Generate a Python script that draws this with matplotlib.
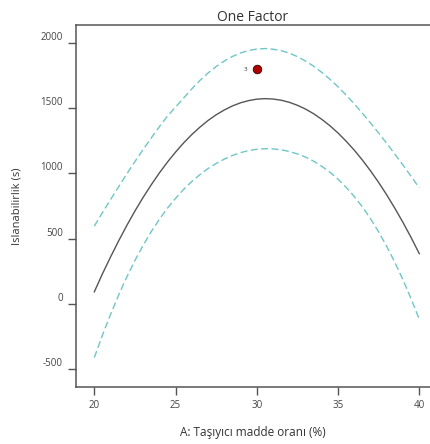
import matplotlib
matplotlib.use("Agg")
import matplotlib.pyplot as plt

plt.rcParams['font.family'] = ['Open Sans', 'DejaVu Sans']

# data
x_vals = [20, 20.5, 21, 21.5, 22, 22.5, 23, 23.5, 24, 24.5, 25, 25.5, 26, 26.5,
          27, 27.5, 28, 28.5, 29, 29.5, 30, 30.5, 31, 31.5, 32, 32.5, 33, 33.5,
          34, 34.5, 35, 35.5, 36, 36.5, 37, 37.5, 38, 38.5, 39, 39.5, 40]
mean_vals = [90, 228, 358, 482, 600, 711, 815, 912, 1003, 1087, 1164, 1235, 1299, 1356,
             1407, 1451, 1488, 1519, 1543, 1560, 1571, 1575, 1572, 1563, 1547, 1524, 1495, 1459,
             1416, 1367, 1311, 1248, 1179, 1103, 1020, 931, 835, 732, 623, 507, 384]
upper_vals = [595, 699, 799, 898, 996, 1091, 1183, 1272, 1359, 1441, 1510, 1580, 1650, 1715,
              1772, 1822, 1864, 1899, 1926, 1945, 1956, 1960, 1955, 1944, 1925, 1898, 1864, 1824,
              1777, 1724, 1666, 1602, 1535, 1463, 1388, 1311, 1231, 1148, 1064, 978, 889]
lower_vals = [-415, -243, -83, 66, 204, 331, 447, 552, 647, 733, 809, 878, 938, 991,
              1038, 1077, 1110, 1138, 1160, 1176, 1186, 1190, 1189, 1182, 1169, 1150, 1126, 1094,
              1055, 1010, 956, 894, 823, 743, 652, 551, 439, 316, 182, 36, -121]
point_x = [30]
point_y = [1800]
point_labels = ["3"]
x_ticks = [20, 25, 30, 35, 40]
y_ticks = [-500, 0, 500, 1000, 1500, 2000]
y_tick_labels = ["-500", "0", "500", "1000", "1500", "2000"]

fig = plt.figure(figsize=(4.30, 4.44), dpi=100)
ax = fig.add_axes([76/430, 57/444, 354/430, 362/444])

ax.plot(x_vals, mean_vals, color='#555555', lw=1.0)
ax.plot(x_vals, upper_vals, color='#6fc6c8', lw=1.0, dashes=(5, 2.5))
ax.plot(x_vals, lower_vals, color='#6fc6c8', lw=1.0, dashes=(5, 2.5))
ax.scatter(point_x, point_y, s=38, color='#b00000', edgecolor='#3a0000', linewidth=0.6, zorder=5)
for px, py, lab in zip(point_x, point_y, point_labels):
    ax.annotate(lab, (px, py), xytext=(-7, 0), textcoords='offset points',
                ha='right', va='center', fontsize=4.5, color='#333333')

ax.set_xlim(18.875, 40.66)
ax.set_ylim(-641, 2141)
ax.set_xticks(x_ticks)
ax.set_yticks(y_ticks)
ax.set_yticklabels(y_tick_labels)
plt.setp(ax.get_yticklabels(), va='bottom')

for s in ['left', 'bottom', 'top']:
    ax.spines[s].set_color('#555555')
    ax.spines[s].set_linewidth(1.1)
ax.spines['right'].set_visible(False)

ax.tick_params(axis='both', direction='out', length=5.8, width=1.0, color='#555555',
               labelsize=7, labelcolor='#444444', pad=3.5)

ax.set_title("One Factor", fontsize=10, color='#333333', pad=3)
ax.set_xlabel("A: Taşıyıcı madde oranı (%)", fontsize=8.5, color='#333333', labelpad=11)
ax.set_ylabel("Islanabilirlik (s)", fontsize=8, color='#333333', labelpad=13)

fig.savefig("out.png", dpi=100)
